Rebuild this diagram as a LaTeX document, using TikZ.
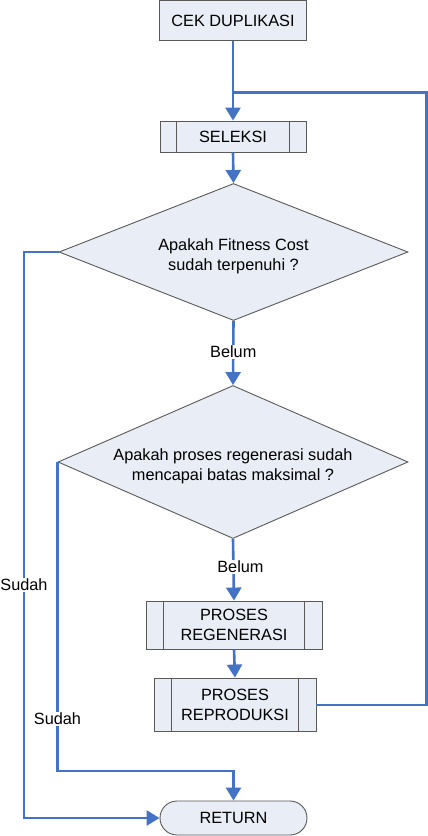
\documentclass[tikz,border=0pt]{standalone}
\usepackage{fontspec}
\setmainfont{Liberation Sans}
\usetikzlibrary{shapes.geometric,arrows.meta}
\definecolor{boxfill}{HTML}{E8EDF6}
\definecolor{boxline}{HTML}{595959}
\definecolor{flow}{HTML}{4472C4}
\begin{document}
\begin{tikzpicture}[x=1pt,y=-1pt,
  every node/.style={font=\fontsize{16.3}{20}\selectfont, text=black},
  procbox/.style={draw=boxline, fill=boxfill, line width=0.9pt, rectangle, inner sep=0pt, align=center},
  decbox/.style={draw=boxline, fill=boxfill, line width=0.9pt, diamond, inner sep=0pt},
  termbox/.style={draw=boxline, fill=boxfill, line width=0.9pt, rectangle, rounded corners=17pt, inner sep=0pt},
  conn/.style={draw=flow, line width=2.6pt},
  arr/.style={conn, -{Triangle[width=15pt,length=13pt]}},
  lbl/.style={fill=white, inner sep=1pt}
]
\useasboundingbox (0,0) rectangle (428,836);

\node[procbox, minimum width=147pt, minimum height=40pt] (cek) at (233,20.5) {CEK DUPLIKASI};
\node[procbox, minimum width=146pt, minimum height=31pt] (sel) at (233,136.5) {SELEKSI};
\draw[boxline, line width=0.9pt] ([xshift=17pt]sel.north west) -- ([xshift=17pt]sel.south west);
\draw[boxline, line width=0.9pt] ([xshift=-17pt]sel.north east) -- ([xshift=-17pt]sel.south east);

\node[decbox, minimum width=349pt, minimum height=137pt] (d1) at (233.5,252) {};
\node[align=center] (t1) at (233.5,256) {Apakah Fitness Cost\\sudah terpenuhi ?};

\node[decbox, minimum width=350pt, minimum height=153pt] (d2) at (233,462) {};
\node[align=center] (t2) at (233,466) {Apakah proses regenerasi sudah\\mencapai batas maksimal ?};

\node[procbox, minimum width=176pt, minimum height=48pt] (reg) at (234,625) {PROSES\\REGENERASI};
\draw[boxline, line width=0.9pt] ([xshift=18pt]reg.north west) -- ([xshift=18pt]reg.south west);
\draw[boxline, line width=0.9pt] ([xshift=-18pt]reg.north east) -- ([xshift=-18pt]reg.south east);

\node[procbox, minimum width=162pt, minimum height=53pt] (rep) at (235,704.5) {PROSES\\REPRODUKSI};
\draw[boxline, line width=0.9pt] ([xshift=18pt]rep.north west) -- ([xshift=18pt]rep.south west);
\draw[boxline, line width=0.9pt] ([xshift=-18pt]rep.north east) -- ([xshift=-18pt]rep.south east);

\node[termbox, minimum width=147pt, minimum height=34pt] (ret) at (233.5,818) {RETURN};

% main flow
\draw[arr] (cek.south) -- (sel.north);
\coordinate (loopA) at (426.5,705);
\coordinate (loopB) at (233,92.5);
\draw[conn] (rep.east |- loopA) -- (loopA) |- (loopB);
\draw[arr] (sel.south) -- (d1.north);
\draw[arr] (d1.south) -- node[lbl, pos=0.48] (b1) {Belum} (d2.north);
\draw[arr] (d2.south) -- node[lbl, pos=0.45, xshift=7pt] (b2) {Belum} (reg.north);
\draw[arr] (reg.south) -- (rep.north);

% Sudah branches
\coordinate (c1) at (24,252);
\draw[arr] (d1.west) -- (c1) |- (ret.west);
\node[lbl] (s1) at (24,585) {Sudah};
\coordinate (c2) at (57.5,771);
\draw[arr] (d2.west) -- (d2.west |- c2) -| (ret.north);
\node[lbl] (s2) at (57.5,719) {Sudah};
\end{tikzpicture}
\end{document}
